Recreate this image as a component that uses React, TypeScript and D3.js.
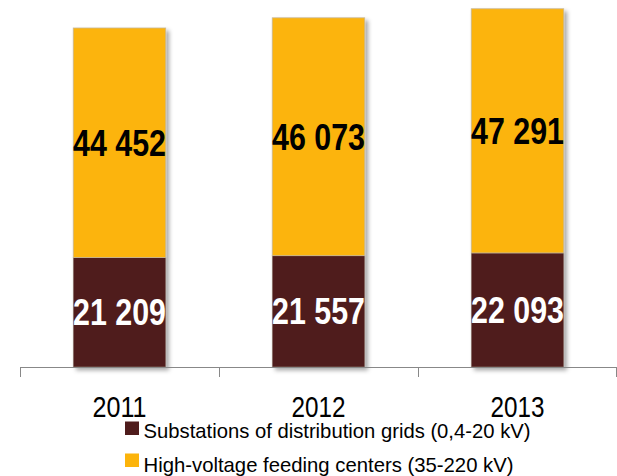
import React from "react";
import * as d3 from "d3";

const categories = ["2011", "2012", "2013"];
const substations = [21209, 21557, 22093];
const feedingCenters = [44452, 46073, 47291];
const seriesNames = [
  "Substations of distribution grids (0,4-20 kV)",
  "High-voltage feeding centers (35-220 kV)",
];
const legendWidths = [387, 370];
const colors = ["#4F1C1C", "#FCB40B"];

const W = 617;
const H = 476;
const FONT = "'Liberation Sans', Arial, sans-serif";

function fmt(v: number) {
  const s = String(v);
  return s.slice(0, s.length - 3) + " " + s.slice(s.length - 3);
}

export default function App() {
  const x = d3.scaleBand<string>().domain(categories).range([20, 617]).padding(0);
  const y = d3.scaleLinear().domain([0, 71080]).range([367, 0]);
  const bw = x.bandwidth() * 0.465;
  const stacked = categories.map((c, i) => ({ c, a: substations[i], b: feedingCenters[i] }));
  return (
    <svg width={W} height={H} style={{ position: "absolute", left: 0, top: 0, background: "#fff" }}>
      <defs>
        <filter id="sh" x="-10%" y="-10%" width="130%" height="130%">
          <feDropShadow dx="3" dy="3" stdDeviation="2" floodColor="#000" floodOpacity="0.35" />
        </filter>
      </defs>
      {stacked.map((d) => {
        const cx = (x(d.c) as number) + x.bandwidth() / 2;
        const x0 = cx - bw / 2;
        const yA = y(d.a);
        const yB = y(d.a + d.b);
        return (
          <g key={d.c}>
            <g filter="url(#sh)">
              <rect x={x0} y={yA} width={bw} height={y(0) - yA} fill={colors[0]} stroke="#9a8a80" strokeWidth={0.6} />
              <rect x={x0} y={yB} width={bw} height={yA - yB} fill={colors[1]} stroke="#c8b89a" strokeWidth={0.8} />
            </g>
            <text x={cx} y={(yB + yA) / 2} dy="0.36em" textAnchor="middle" fontFamily={FONT} fontWeight="bold"
              fontSize={36.5} fill="#000" textLength={93} lengthAdjust="spacingAndGlyphs">
              {fmt(d.b)}
            </text>
            <text x={cx} y={(yA + y(0)) / 2} dy="0.36em" textAnchor="middle" fontFamily={FONT} fontWeight="bold"
              fontSize={36.5} fill="#fff" textLength={93} lengthAdjust="spacingAndGlyphs">
              {fmt(d.a)}
            </text>
            <text x={cx} y={416.5} textAnchor="middle" fontFamily={FONT} fontSize={30} fill="#000"
              textLength={54} lengthAdjust="spacingAndGlyphs">
              {d.c}
            </text>
          </g>
        );
      })}
      <line x1={20} x2={617} y1={367.5} y2={367.5} stroke="#888" strokeWidth={1} />
      {categories.map((c) => (
        <line key={c} x1={(x(c) as number) + 0.5} x2={(x(c) as number) + 0.5} y1={367} y2={377} stroke="#888" strokeWidth={1} />
      ))}
      <line x1={616.5} x2={616.5} y1={367} y2={377} stroke="#888" strokeWidth={1} />
      {seriesNames.map((n, i) => (
        <g key={n}>
          <rect x={125} y={421.5 + i * 32} width={14} height={13.5} fill={colors[i]} />
          <text x={143.5} y={438 + i * 33.5} fontFamily={FONT} fontSize={21} fill="#000"
            textLength={legendWidths[i]} lengthAdjust="spacingAndGlyphs">
            {n}
          </text>
        </g>
      ))}
    </svg>
  );
}
